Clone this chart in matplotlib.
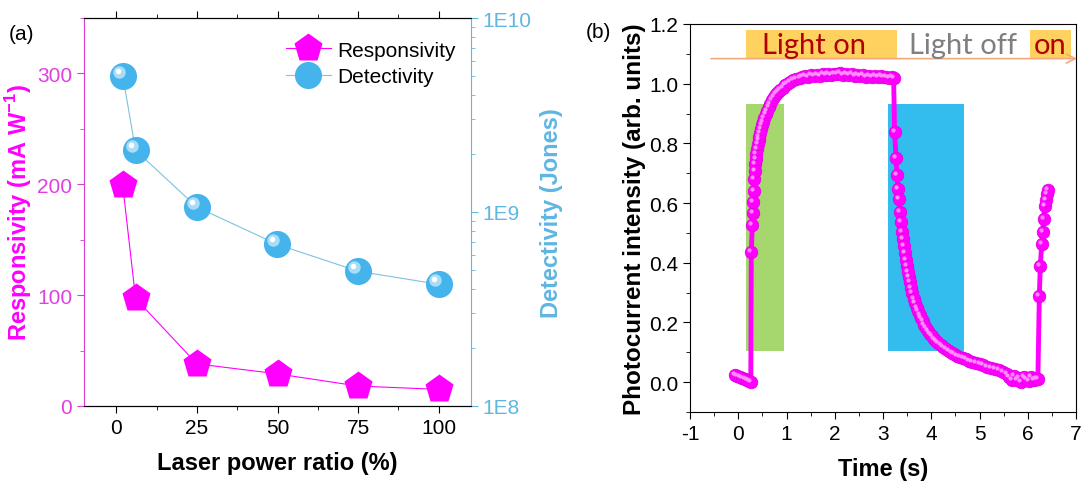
import matplotlib
matplotlib.use("Agg")
import matplotlib.pyplot as plt
from matplotlib.lines import Line2D
from matplotlib.patches import Rectangle
from matplotlib.ticker import MultipleLocator, FixedLocator, FuncFormatter, LogLocator
from matplotlib.transforms import offset_copy
import numpy as np

plt.rcParams['font.family'] = ['Liberation Sans', 'DejaVu Sans']
plt.rcParams['axes.unicode_minus'] = False
plt.rcParams['mathtext.fontset'] = 'custom'
plt.rcParams['mathtext.rm'] = 'Liberation Sans'
plt.rcParams['mathtext.bf'] = 'Liberation Sans:bold'

# ---- panel (a) data
power = [2, 6, 25, 50, 75, 100]
responsivity = [199, 97, 38, 29, 18, 15]
detectivity = [5.05e9, 2.08e9, 1.06e9, 6.8e8, 4.95e8, 4.24e8]

# ---- panel (b) data
time_s = [-0.07, -0.02, 0.03, 0.08, 0.13, 0.18, 0.22, 0.26,
          # rise
          0.27, 0.29, 0.30, 0.31, 0.32, 0.33, 0.34, 0.35, 0.36, 0.37, 0.38,
          0.40, 0.42, 0.44, 0.46, 0.48, 0.50, 0.52, 0.54, 0.57, 0.60, 0.63,
          0.66, 0.70, 0.74, 0.78, 0.82, 0.87, 0.92, 0.97, 1.02, 1.08, 1.14,
          1.20, 1.27,
          # plateau
          1.33, 1.39, 1.45, 1.51, 1.57, 1.63, 1.69, 1.75, 1.81, 1.87, 1.93,
          1.99, 2.05, 2.11, 2.17, 2.23, 2.29, 2.35, 2.41, 2.47, 2.53, 2.59,
          2.65, 2.71, 2.77, 2.83, 2.89, 2.95, 3.01, 3.07, 3.13, 3.19, 3.22,
          # decay
          3.24, 3.27, 3.29, 3.31, 3.33, 3.35, 3.37, 3.39, 3.41, 3.43, 3.45,
          3.47, 3.49, 3.51, 3.53, 3.55, 3.58, 3.61, 3.64, 3.67, 3.70, 3.73,
          3.76, 3.79, 3.82, 3.86, 3.90, 3.94, 3.98, 4.02, 4.06, 4.10, 4.15,
          4.20, 4.25, 4.30, 4.36, 4.42, 4.48, 4.54, 4.60, 4.66, 4.72, 4.78,
          4.85, 4.92, 5.00, 5.08, 5.16, 5.24, 5.32, 5.40, 5.48, 5.56, 5.62,
          5.67, 5.72, 5.77, 5.82, 5.87, 5.92, 5.97, 6.02, 6.07, 6.12, 6.17,
          6.21,
          # second rise
          6.24, 6.26, 6.29, 6.31, 6.33, 6.35, 6.37, 6.39, 6.42]
intensity = [0.025, 0.020, 0.018, 0.015, 0.012, 0.008, 0.004, 0.000,
             0.435, 0.527, 0.567, 0.603, 0.642, 0.681, 0.709, 0.730, 0.749, 0.765, 0.782,
             0.797, 0.810, 0.822, 0.835, 0.849, 0.860, 0.872, 0.884, 0.897, 0.910, 0.922,
             0.933, 0.945, 0.955, 0.964, 0.972, 0.980, 0.987, 0.994, 1.000, 1.006, 1.011,
             1.016, 1.020,
             1.022, 1.026, 1.024, 1.028, 1.025, 1.030, 1.027, 1.031, 1.028, 1.033, 1.030,
             1.034, 1.031, 1.035, 1.030, 1.033, 1.028, 1.031, 1.027, 1.029, 1.025, 1.028,
             1.024, 1.027, 1.023, 1.026, 1.022, 1.025, 1.021, 1.024, 1.020, 1.022, 1.020,
             0.838, 0.751, 0.693, 0.648, 0.615, 0.570, 0.535, 0.503, 0.478, 0.455, 0.432,
             0.410, 0.390, 0.370, 0.352, 0.335, 0.315, 0.298, 0.280, 0.265, 0.250, 0.237,
             0.225, 0.214, 0.204, 0.192, 0.181, 0.171, 0.162, 0.153, 0.145, 0.138, 0.130,
             0.123, 0.117, 0.111, 0.105, 0.099, 0.094, 0.089, 0.084, 0.080, 0.076, 0.072,
             0.068, 0.064, 0.060, 0.056, 0.052, 0.048, 0.044, 0.040, 0.035, 0.028, 0.018,
             0.008, 0.020, 0.006, 0.015, 0.002, 0.018, 0.010, 0.004, 0.016, 0.008, 0.012,
             0.012,
             0.290, 0.390, 0.463, 0.503, 0.548, 0.590, 0.609, 0.632, 0.643]

MAG = '#FF00FF'
MAG_AX = '#D63BD6'
BLUE = '#45B4EC'
BLUE_AX = '#5FB6E2'

fig = plt.figure(figsize=(10.83, 4.89), dpi=100)

# ================= panel (a)
ax1 = fig.add_axes([84 / 1083, 1 - 407 / 489, 387 / 1083, 388 / 489])
ax2 = ax1.twinx()

ax1.plot(power, responsivity, '-', color=MAG, lw=0.8, zorder=2)
ax1.plot(power, responsivity, 'p', color=MAG, ms=21, mec='none', zorder=3)

ax2.plot(power, detectivity, '-', color='#7FC2DC', lw=0.8, zorder=2)
ax2.plot(power, detectivity, 'o', color=BLUE, ms=19.5, mec='none', zorder=3)
hl1 = offset_copy(ax2.transData, fig=fig, x=-4, y=4, units='dots')
hl2 = offset_copy(ax2.transData, fig=fig, x=-5, y=5, units='dots')
ax2.plot(power, detectivity, 'o', color='#A9DCF7', ms=9, mec='none', transform=hl1, zorder=4)
ax2.plot(power, detectivity, 'o', color='white', ms=4, mec='none', transform=hl2, zorder=5)

ax1.set_xlim(-10, 110)
ax1.set_ylim(0, 350)
ax2.set_yscale('log')
ax2.set_ylim(1e8, 1e10)

ax1.xaxis.set_major_locator(FixedLocator([0, 25, 50, 75, 100]))
ax1.xaxis.set_minor_locator(MultipleLocator(12.5))
ax1.yaxis.set_major_locator(FixedLocator([0, 100, 200, 300]))
ax1.yaxis.set_minor_locator(MultipleLocator(50))
ax1.tick_params(axis='x', which='both', direction='out', top=True, labelsize=15)
ax1.tick_params(axis='x', which='major', length=5)
ax1.tick_params(axis='x', which='minor', length=3)
ax1.tick_params(axis='y', which='major', length=5, colors=MAG_AX, labelsize=15,
                labelcolor='#E040E0')
ax1.tick_params(axis='y', which='minor', length=3, colors=MAG_AX)
ax1.spines['left'].set_color(MAG_AX)
ax1.spines['right'].set_visible(False)

ax2.yaxis.set_major_locator(LogLocator(base=10, numticks=5))
ax2.yaxis.set_minor_locator(LogLocator(base=10, subs=np.arange(2, 10), numticks=10))
ax2.yaxis.set_major_formatter(FuncFormatter(lambda v, p: '1E%d' % round(np.log10(v))))
ax2.tick_params(axis='y', which='major', length=5, colors=BLUE_AX, labelsize=15)
ax2.tick_params(axis='y', which='minor', length=3, colors=BLUE_AX, labelright=False)
ax2.spines['right'].set_color(BLUE_AX)
ax2.spines['left'].set_visible(False)

ax1.set_xlabel('Laser power ratio (%)', fontsize=17, fontweight='bold', labelpad=10)
ax1.set_ylabel(r'Responsivity (mA W$^{\mathbf{-1}}$)', fontsize=17, fontweight='bold',
               color=MAG, labelpad=2)
ax2.set_ylabel('Detectivity (Jones)', fontsize=17, fontweight='bold', color=BLUE_AX,
               labelpad=6)

handles = [Line2D([], [], color=MAG, lw=0.8, marker='p', ms=21, mec='none'),
           Line2D([], [], color='#7FC2DC', lw=0.8, marker='o', ms=19.5, mfc=BLUE, mec='none')]
ax1.legend(handles, ['Responsivity', 'Detectivity'], loc='upper right',
           bbox_to_anchor=(1.01, 0.99), frameon=False, fontsize=15, handlelength=2.2,
           handletextpad=0.3, labelspacing=0.35)
fig.text(22 / 1083, 1 - 35 / 489, '(a)', fontsize=15, ha='center', va='center')

# ================= panel (b)
ax = fig.add_axes([690 / 1083, 1 - 413 / 489, 386 / 1083, 388 / 489])
ax.set_xlim(-1, 7)
ax.set_ylim(-0.1, 1.2)

ax.add_patch(Rectangle((0.156, 0.103), 0.944 - 0.156, 0.932 - 0.103,
                       color='#A6D66E', lw=0, zorder=1))
ax.add_patch(Rectangle((3.10, 0.103), 4.68 - 3.10, 0.932 - 0.103,
                       color='#33BCEE', lw=0, zorder=1))
ax.add_patch(Rectangle((0.164, 1.084), 3.29 - 0.164, 1.179 - 1.084,
                       color='#FFD15F', lw=0, zorder=1))
ax.add_patch(Rectangle((6.04, 1.084), 6.90 - 6.04, 1.179 - 1.084,
                       color='#FFD15F', lw=0, zorder=1, clip_on=False))
ax.annotate('', xy=(7.08, 1.084), xytext=(-0.62, 1.084),
            arrowprops=dict(arrowstyle='->', color='#F2A97E', lw=1.2,
                            mutation_scale=16),
            annotation_clip=False, zorder=2)
ax.text(1.57, 1.128, 'Light on', color='#B00000', fontsize=21, family='Lato',
        ha='center', va='center', zorder=3)
ax.text(4.65, 1.128, 'Light off', color='#7F7F7F', fontsize=21, family='Lato',
        ha='center', va='center', zorder=3)
ax.text(6.47, 1.128, 'on', color='#B00000', fontsize=21, family='Lato',
        ha='center', va='center', zorder=3)

ax.plot(time_s, intensity, '-', color=MAG, lw=3.5, zorder=4)
ax.plot(time_s, intensity, 'o', color=MAG, ms=9, mec='#E600E6', mew=0.6, zorder=5)
hlb = offset_copy(ax.transData, fig=fig, x=-2, y=2, units='dots')
ax.plot(time_s, intensity, 'o', color='#FF8CFF', ms=3, mec='none', transform=hlb,
        zorder=6)

ax.xaxis.set_major_locator(MultipleLocator(1))
ax.xaxis.set_minor_locator(MultipleLocator(0.5))
ax.yaxis.set_major_locator(MultipleLocator(0.2))
ax.yaxis.set_minor_locator(MultipleLocator(0.1))
ax.yaxis.set_major_formatter(FuncFormatter(lambda v, p: '%.1f' % v))
ax.tick_params(which='both', direction='out', labelsize=15)
ax.tick_params(which='major', length=5)
ax.tick_params(which='minor', length=3)
ax.set_xlabel('Time (s)', fontsize=17, fontweight='bold', labelpad=10)
ax.set_ylabel('Photocurrent intensity (arb. units)', fontsize=17.5, fontweight='bold',
              labelpad=2)
fig.text(598 / 1083, 1 - 32 / 489, '(b)', fontsize=15, ha='center', va='center')

fig.savefig('out.png', dpi=100)
